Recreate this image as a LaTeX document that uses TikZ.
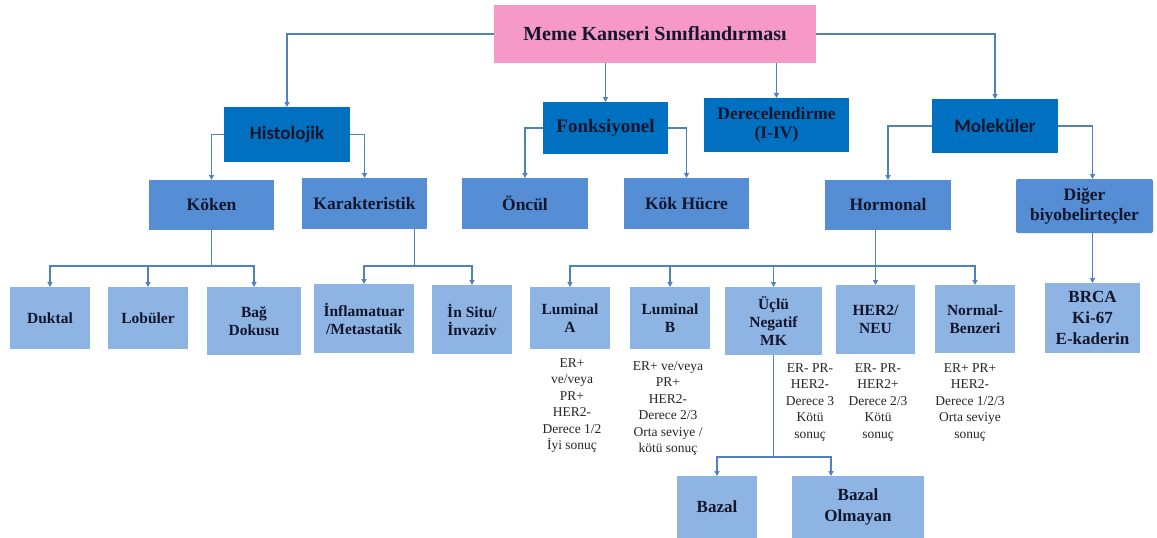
\documentclass[tikz,border=0pt]{standalone}
\usepackage{fontspec}
\setmainfont{Liberation Serif}
\newfontfamily\calibri{Carlito}
\usetikzlibrary{arrows.meta}
\definecolor{pinkbox}{RGB}{246,153,200}
\definecolor{darkbox}{RGB}{0,112,192}
\definecolor{midbox}{RGB}{85,142,213}
\definecolor{lightbox}{RGB}{141,180,226}
\definecolor{linec}{RGB}{79,129,189}
\definecolor{textc}{RGB}{20,22,45}

\begin{document}
\begin{tikzpicture}[x=1pt,y=-1pt,
  box/.style={anchor=north west, inner sep=0pt, outer sep=0pt, align=center, text=textc, font=\bfseries\fontsize{17.5}{19.5}\selectfont},
  rootbox/.style={box, fill=pinkbox, font=\bfseries\fontsize{20}{22}\selectfont},
  darkb/.style={box, fill=darkbox},
  sansb/.style={darkb, font=\calibri\bfseries\fontsize{19}{21}\selectfont},
  midb/.style={box, fill=midbox},
  leafb/.style={box, fill=lightbox, font=\bfseries\fontsize{15.5}{18}\selectfont},
  note/.style={anchor=north, align=center, inner sep=0pt, text=black!85, font=\fontsize{13.5}{16.5}\selectfont},
  link/.style={draw=linec, line width=1.6pt},
  arr/.style={link, -{Triangle[length=5pt,width=5pt]}}]
\useasboundingbox[fill=white] (0,0) rectangle (1157,538);

\node[rootbox, minimum width=322, minimum height=58] (root) at (494,5) {Meme Kanseri Sınıflandırması};

\node[sansb, minimum width=126, minimum height=55] (hist) at (224,107) {Histolojik};
\node[darkb, minimum width=125, minimum height=52, font=\bfseries\fontsize{19}{21}\selectfont] (fonk) at (543,102) {Fonksiyonel};
\node[darkb, minimum width=145, minimum height=54] (dere) at (704,98) {Derecelendirme\\(I-IV)};
\node[sansb, minimum width=126, minimum height=54] (mol) at (932,99) {Moleküler};

\node[midb, minimum width=125, minimum height=50] (koken) at (149,180) {Köken};
\node[midb, minimum width=125, minimum height=51] (karak) at (302,178) {Karakteristik};
\node[midb, minimum width=126, minimum height=51] (oncul) at (462,178) {Öncül};
\node[midb, minimum width=125, minimum height=51] (kok) at (624,178) {Kök Hücre};
\node[midb, minimum width=126, minimum height=50] (horm) at (825,180) {Hormonal};
\node[midb, minimum width=137, minimum height=54, rounded corners=2pt] (diger) at (1016,179) {Diğer\\biyobelirteçler};

\node[leafb, minimum width=80, minimum height=62] (duktal) at (10,287) {Duktal};
\node[leafb, minimum width=80, minimum height=62] (lobuler) at (108,287) {Lobüler};
\node[leafb, minimum width=94, minimum height=68] (bag) at (207,287) {Bağ\\Dokusu};
\node[leafb, minimum width=100, minimum height=69] (inflam) at (314,284) {İnflamatuar\\/Metastatik};
\node[leafb, minimum width=80, minimum height=69] (insitu) at (432,285) {İn Situ/\\İnvaziv};
\node[leafb, minimum width=80, minimum height=62] (luma) at (530,287) {Luminal\\A};
\node[leafb, minimum width=80, minimum height=62] (lumb) at (630,287) {Luminal\\B};
\node[leafb, minimum width=97, minimum height=68] (uclu) at (725,287) {Üçlü\\Negatif\\MK};
\node[leafb, minimum width=79, minimum height=69] (her2) at (836,285) {HER2/\\NEU};
\node[leafb, minimum width=80, minimum height=68] (normal) at (935,285) {Normal-\\Benzeri};
\node[leafb, minimum width=95, minimum height=70, font=\bfseries\fontsize{17}{21}\selectfont] (brca) at (1045,283) {BRCA\\Ki-67\\E-kaderin};
\node[leafb, minimum width=80, minimum height=62, font=\bfseries\fontsize{17}{21}\selectfont] (bazal) at (677,476) {Bazal};
\node[leafb, minimum width=132, minimum height=62, font=\bfseries\fontsize{17}{21}\selectfont] (bolm) at (792,476) {Bazal\\Olmayan};

\node[note] (lumatxt) at (572,358) {ER+\\ve/veya\\PR+\\HER2-\\Derece 1/2\\İyi sonuç};
\node[note] (lumbtxt) at (668,361) {ER+ ve/veya\\PR+\\HER2-\\Derece 2/3\\Orta seviye /\\kötü sonuç};
\node[note] (uclutxt) at (810,363) {ER- PR-\\HER2-\\Derece 3\\Kötü\\sonuç};
\node[note] (her2txt) at (878,363) {ER- PR-\\HER2+\\Derece 2/3\\Kötü\\sonuç};
\node[note] (normtxt) at (970,363) {ER+ PR+\\HER2-\\Derece 1/2/3\\Orta seviye\\sonuç};

\draw[arr] (root.west) -| (hist.north);
\draw[arr] (root.south -| fonk.north) -- (fonk.north);
\draw[arr] (root.south -| dere.north) -- (dere.north);
\draw[arr] (root.east) -| (mol.north);

\draw[arr] (hist.west) -| (koken.north);
\draw[arr] (hist.east) -| (karak.north);
\draw[arr] (fonk.west) -| (oncul.north);
\draw[arr] (fonk.east) -| (kok.north);
\draw[arr] (mol.west) -| (horm.north);
\draw[arr] (mol.east) -| (diger.north -| brca.north);
\draw[arr] (diger.south -| brca.north) -- (brca.north);

\draw[link] (koken.south) -- ++(0,36) coordinate (kb);
\draw[arr] (kb) -| (duktal.north);
\draw[arr] (kb) -| (lobuler.north);
\draw[arr] (kb) -| (bag.north);

\draw[link] ([xshift=50pt]karak.south) -- ++(0,37) coordinate (cb);
\draw[arr] (cb) -| (inflam.north);
\draw[arr] (cb) -| (insitu.north);

\draw[arr] (horm.south -| her2.north) -- (her2.north);
\path (horm.south -| her2.north) ++(0,36) coordinate (hb);
\draw[arr] (hb) -| (luma.north);
\draw[arr] (hb) -| (lumb.north);
\draw[arr] (hb) -| (uclu.north);
\draw[arr] (hb) -| (normal.north);

\draw[link] (uclu.south) -- ++(0,102) coordinate (ub);
\draw[arr] (ub) -| (bazal.north);
\draw[arr] (ub) -| ([xshift=-27pt]bolm.north);
\end{tikzpicture}
\end{document}
